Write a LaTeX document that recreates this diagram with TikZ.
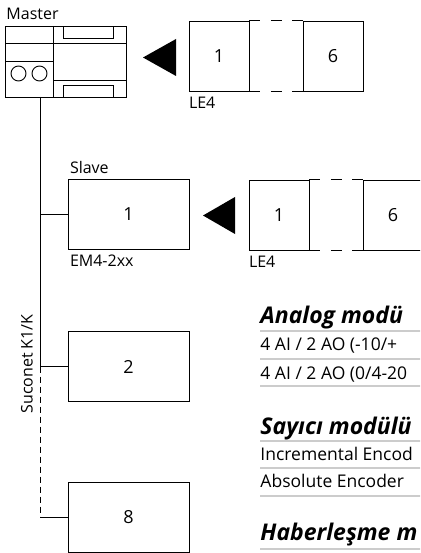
\documentclass[tikz,border=0pt]{standalone}
\usepackage{fontspec}
\setmainfont{Open Sans}
\usetikzlibrary{positioning}

\begin{document}
\begin{tikzpicture}[x=1pt, y=-1pt, line width=0.9pt,
  unit/.style={draw, minimum width=121pt, minimum height=70pt, inner sep=0pt, font=\fontsize{18}{21}\selectfont},
  le/.style={draw, minimum width=60pt, minimum height=70pt, inner sep=0pt, font=\fontsize{18}{21}\selectfont},
  tag/.style={anchor=base west, inner sep=0pt, font=\fontsize{16}{19}\selectfont},
  row/.style={anchor=base west, inner sep=0pt, font=\fontsize{17.5}{20}\selectfont},
  head/.style={anchor=base west, inner sep=0pt, font=\fontsize{23}{26}\selectfont\bfseries\itshape},
  rule/.style={draw=gray!40, line width=1.1pt},
  gap/.style={dash pattern=on 11pt off 10.5pt},
  bus/.style={dash pattern=on 6pt off 4pt}
]
\clip (0,0) rectangle (420,553);
% master
\node[draw, minimum width=121pt, minimum height=71pt, inner sep=0pt] (master) at (65.5,61.5) {};
\draw (53,26) -- (53,97) (5,43) -- (126,43) (5,61) -- (53,61) (53,80) -- (126,80);
\draw (63,26) rectangle (113,38) (63,85) rectangle (113,97);
\draw (18.5,73.5) circle (7.5pt) (39.5,73.5) circle (7.5pt);
\node[tag] (mastertag) at (6,19.5) {Master};
\fill (143,57.5) -- (176,39) -- (176,76) -- cycle;
\fill (203,215.5) -- (235,197) -- (235,234) -- cycle;
% LE4 modules
\foreach \n/\x/\y/\t in {a1/219/56/1, a6/333/56/6, b1/279/215/1, b6/393/215/6}
  \node[le] (\n) at (\x,\y) {\t};
\draw[gap] (a1.north east) -- (a6.north west) (a1.south east) -- (a6.south west);
\draw[gap] (b1.north east) -- (b6.north west) (b1.south east) -- (b6.south west);
\node[tag] (le4a) at ([yshift=-17pt]a1.south west) {LE4};
\node[tag] (le4b) at ([yshift=-17pt]b1.south west) {LE4};
% slaves
\node[unit] (slave) at (128.5,214) {1};
\node[unit] (u2) at (128.5,366.5) {2};
\node[unit] (u8) at (128.5,517.5) {8};
\node[tag] (slavetag) at ([xshift=2pt, yshift=5pt]slave.north west) {Slave};
\node[tag] (emtag) at ([xshift=2pt, yshift=-17pt]slave.south west) {EM4-2xx};
% bus
\coordinate (bus0) at (40,97);
\coordinate (bus8) at (bus0 |- u8.west);
\draw (bus0) -- (bus0 |- u2.west) -- (u2.west);
\draw (bus0 |- slave.west) -- (slave.west);
\draw[bus] (bus0 |- u2.west) -- (bus8);
\draw (bus8) -- (u8.west);
\node[rotate=90, inner sep=0pt, font=\fontsize{16}{19}\selectfont] (suconet) at (27,364) {Suconet K1/K};
% tables
\foreach \y in {331,359,386,441,468,496,549}
  \draw[rule] (260,\y) -- (430,\y);
\node[head] (analog) at (260,323) {Analog modü};
\node[row] (ana1) at (260,350) {4 AI / 2 AO (-10/+};
\node[row] (ana2) at (260,379) {4 AI / 2 AO (0/4-20};
\node[head] (sayici) at (260,434) {Sayıcı modülü};
\node[row] (say1) at (260,460) {Incremental Encod};
\node[row] (say2) at (260,487) {Absolute Encoder};
\node[head] (haber) at (260,540) {Haberleşme m};
\end{tikzpicture}
\end{document}
